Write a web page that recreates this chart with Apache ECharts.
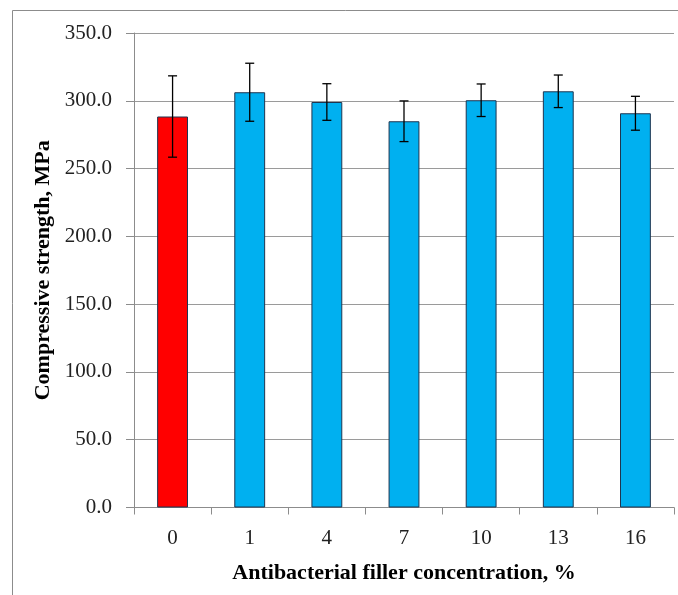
<!DOCTYPE html>
<html>
<head>
<meta charset="utf-8">
<script src="https://cdn.jsdelivr.net/npm/echarts@6/dist/echarts.min.js"></script>
<style>
  html, body { margin: 0; padding: 0; background: #fff; }
  #chart { width: 678px; height: 595px; }
</style>
</head>
<body>
<div id="chart"></div>
<script>
// concentration categories (%)
const categories = ["0", "1", "4", "7", "10", "13", "16"];
// compressive strength, MPa
const strength = [288.4, 306.3, 299.1, 284.9, 300.4, 307.0, 290.8];
// standard deviation (error bars)
const errors = [30.0, 21.4, 13.5, 15.0, 12.0, 12.0, 12.5];
const barColors = ["#ff0000", "#00b0f0", "#00b0f0", "#00b0f0", "#00b0f0", "#00b0f0", "#00b0f0"];

const FONT = "'Liberation Serif', 'Times New Roman', serif";

const chart = echarts.init(document.getElementById("chart"));

const option = {
  animation: false,
  backgroundColor: "#fff",
  graphic: [
    {
      // outer frame of the figure
      type: "rect",
      shape: { x: 12.5, y: 10.5, width: 700, height: 620 },
      style: { fill: "none", stroke: "#8c8c8c", lineWidth: 1 },
      silent: true,
    },
  ],
  grid: {
    left: 134,
    right: 4,
    top: 33,
    bottom: 87.5,
  },
  xAxis: {
    type: "category",
    data: categories,
    name: "Antibacterial filler concentration, %",
    nameLocation: "middle",
    nameGap: 55,
    nameTextStyle: { fontFamily: FONT, fontWeight: "bold", fontSize: 22, color: "#000" },
    axisLine: { lineStyle: { color: "#8c8c8c", width: 1 } },
    axisTick: { show: true, length: 7, lineStyle: { color: "#8c8c8c" } },
    axisLabel: { fontFamily: FONT, fontSize: 21, color: "#222", margin: 20 },
  },
  yAxis: {
    type: "value",
    min: 0,
    max: 350,
    interval: 50,
    name: "Compressive strength, MPa",
    nameLocation: "middle",
    nameGap: 72,
    nameTextStyle: { fontFamily: FONT, fontWeight: "bold", fontSize: 22, color: "#000" },
    axisLine: { show: true, lineStyle: { color: "#8c8c8c", width: 1 } },
    axisTick: { show: true, length: 8, lineStyle: { color: "#8c8c8c" } },
    axisLabel: {
      fontFamily: FONT,
      fontSize: 21,
      color: "#222",
      margin: 22,
      formatter: v => v.toFixed(1),
    },
    splitLine: { lineStyle: { color: "#9a9a9a", width: 1 } },
  },
  series: [
    {
      type: "bar",
      data: strength.map((v, i) => ({ value: v, itemStyle: { color: barColors[i] } })),
      barWidth: "40%",
      itemStyle: { borderColor: "#1f3550", borderWidth: 1 },
    },
    {
      // error bars
      type: "custom",
      data: strength.map((v, i) => [i, v - errors[i], v + errors[i]]),
      renderItem: (params, api) => {
        const lo = api.coord([api.value(0), api.value(1)]);
        const hi = api.coord([api.value(0), api.value(2)]);
        const half = 4.5;
        const style = { stroke: "#000", lineWidth: 1.3 };
        return {
          type: "group",
          children: [
            { type: "line", shape: { x1: hi[0], y1: hi[1], x2: lo[0], y2: lo[1] }, style },
            { type: "line", shape: { x1: hi[0] - half, y1: hi[1], x2: hi[0] + half, y2: hi[1] }, style },
            { type: "line", shape: { x1: lo[0] - half, y1: lo[1], x2: lo[0] + half, y2: lo[1] }, style },
          ],
        };
      },
      z: 10,
    },
  ],
};

chart.setOption(option);
</script>
</body>
</html>
